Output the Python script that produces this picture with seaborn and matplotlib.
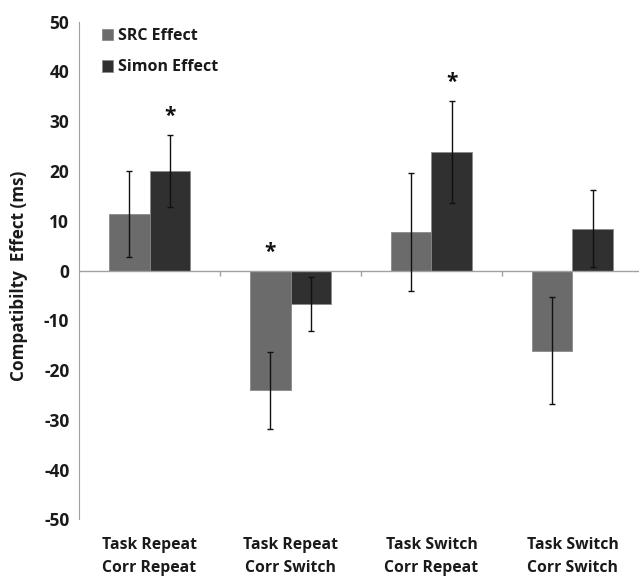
import pandas as pd
import matplotlib.pyplot as plt
import seaborn as sns

# values
conditions = ["Task Repeat\nCorr Repeat", "Task Repeat\nCorr Switch",
              "Task Switch\nCorr Repeat", "Task Switch\nCorr Switch"]
src_effect = [11.4, -24.1, 7.7, -16.1]
simon_effect = [20.0, -6.7, 23.8, 8.4]
src_err = [8.6, 7.8, 11.9, 10.7]
simon_err = [7.3, 5.4, 10.3, 7.7]
series = ["SRC Effect", "Simon Effect"]
# (condition index, series) pairs marked with an asterisk
significant = [(0, "Simon Effect"), (1, "SRC Effect"), (2, "Simon Effect")]

df = pd.DataFrame({
    "condition": conditions * 2,
    "effect": src_effect + simon_effect,
    "err": src_err + simon_err,
    "series": [series[0]] * 4 + [series[1]] * 4,
})

sns.set_style("white")
plt.rcParams["font.family"] = ["Open Sans", "DejaVu Sans"]
plt.rcParams["font.weight"] = "bold"
plt.rcParams["axes.unicode_minus"] = False

fig = plt.figure(figsize=(6.39, 5.76), dpi=100)
ax = fig.add_axes([79 / 639, 1 - 519.3 / 576, 564 / 639, (519.3 - 21.7) / 576])

palette = {"SRC Effect": "#6b6b6b", "Simon Effect": "#303030"}
sns.barplot(data=df, x="condition", y="effect", hue="series", hue_order=series,
            palette=palette, errorbar=None, width=0.575, saturation=1,
            edgecolor="#8a8a8a", linewidth=0.6, ax=ax)

# error bars and asterisks at the bar centres
for name, container in zip(series, ax.containers):
    sub = df[df["series"] == name].reset_index(drop=True)
    xs = [b.get_x() + b.get_width() / 2 for b in container]
    ax.errorbar(xs, sub["effect"], yerr=sub["err"], fmt="none", ecolor="#111111",
                elinewidth=1.0, capsize=2.5, capthick=1.0, zorder=5)
    for i, cond in enumerate(sub["condition"]):
        if (i, name) in significant:
            top = max(0, sub["effect"][i] + sub["err"][i])
            ax.text(xs[i], top + 1.5, "*", ha="center", va="bottom",
                    fontsize=15, color="#111111", fontweight="bold")

ax.set_ylim(-50, 50)
ax.set_xlim(-0.5, 3.5)
ax.set_yticks(range(-50, 51, 10))
ax.tick_params(axis="y", length=5, width=1, color="#a0a0a0", labelsize=12.5, pad=2)
ax.tick_params(axis="x", length=0, labelsize=11.3, pad=13)
for lab in ax.get_xticklabels() + ax.get_yticklabels():
    lab.set_fontweight("bold")
    lab.set_color("#1a1a1a")
for lab in ax.get_xticklabels():
    lab.set_linespacing(1.55)

# zero line with category dividers
ax.axhline(0, color="#a0a0a0", lw=1, zorder=1)
ax.vlines([0.5, 1.5, 2.5], -1.2, 0, color="#a0a0a0", lw=1)

for side in ["top", "right", "bottom"]:
    ax.spines[side].set_visible(False)
ax.spines["left"].set_color("#a0a0a0")
ax.spines["left"].set_bounds(-50, 50)

ax.set_xlabel("")
ax.set_ylabel("Compatibilty  Effect (ms)", fontsize=12.3, fontweight="bold",
              color="#1a1a1a", labelpad=5)
ax.yaxis.set_label_coords(-0.09, 0.49)

leg = ax.legend(loc="upper left", bbox_to_anchor=(0.016, 1.016), frameon=False,
                fontsize=11.5, handlelength=0.65, handleheight=0.75,
                handletextpad=0.3, labelspacing=0.95)
for t in leg.get_texts():
    t.set_fontweight("bold")
    t.set_color("#1a1a1a")

fig.savefig("out.png", dpi=100, facecolor="white")
